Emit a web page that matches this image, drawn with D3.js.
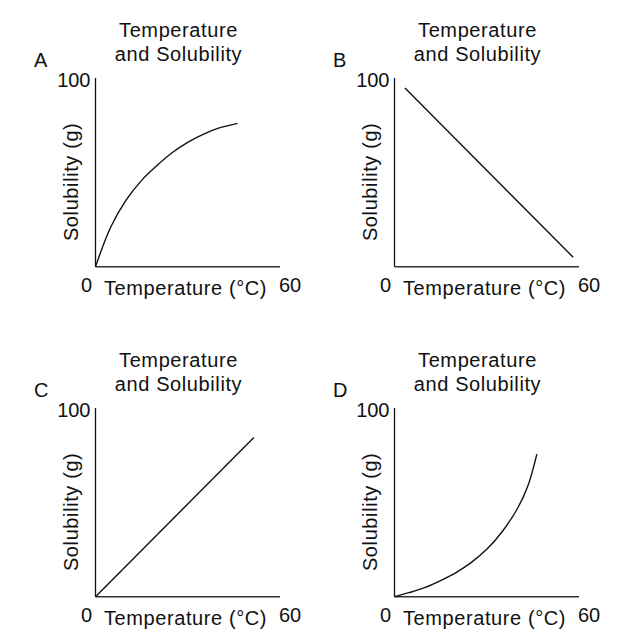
<!DOCTYPE html>
<html>
<head>
<meta charset="utf-8">
<script src="https://cdn.jsdelivr.net/npm/d3@7"></script>
<style>
  body { margin: 0; background: #fff; }
  svg text { font-family: "Liberation Sans", Arial, sans-serif; fill: #111; }
</style>
</head>
<body>
<div id="chart"></div>
<script>
// values (temperature in °C, solubility in g)
const panelLetters = ["A", "B", "C", "D"];
const titleLines = ["Temperature", "and Solubility"];
const xTicks = [0, 60];
const yTicks = [100];

const tempA = [0, 5, 10, 15, 20, 25, 30, 35, 40, 46.2];
const solA  = [0, 21.5, 36, 46.5, 54.5, 61.5, 67, 71.3, 74.6, 77.2];

const tempB = [3.4, 58.1];
const solB  = [96.2, 5.1];

const tempC = [0, 51.5];
const solC  = [0, 85.7];

const tempD = [0, 5, 10, 15, 20, 25, 30, 35, 40, 43.3, 46.3];
const solD  = [0, 2.3, 5, 8.7, 13, 18.5, 25.5, 35, 47.5, 59.3, 76.8];

const series = [[tempA, solA], [tempB, solB], [tempC, solC], [tempD, solD]];

const W = 622, H = 636;
// top-left position of each small chart
const offsets = [[0, 0], [299, 0], [0, 330], [299, 330]];

const svg = d3.select("#chart").append("svg")
    .attr("width", W)
    .attr("height", H);

// plot area inside one panel
const plot = { left: 95.5, right: 280, top: 81, bottom: 266.7 };

const x = d3.scaleLinear().domain([0, 60]).range([plot.left, plot.right]);
const y = d3.scaleLinear().domain([0, 100]).range([plot.bottom, plot.top]);

const line = d3.line()
    .x(d => x(d[0]))
    .y(d => y(d[1]))
    .curve(d3.curveCatmullRom.alpha(0.5));

series.forEach((s, i) => {
    const g = svg.append("g")
        .attr("transform", `translate(${offsets[i][0]}, ${offsets[i][1]})`);

    // panel letter
    g.append("text")
        .attr("x", 34)
        .attr("y", 66.5)
        .style("font-size", "20px")
        .text(panelLetters[i]);

    // two line title
    g.append("text")
        .attr("x", plot.left + 83)
        .attr("y", 37)
        .attr("text-anchor", "middle")
        .style("font-size", "20px")
        .style("letter-spacing", "0.6px")
        .selectAll("tspan")
        .data(titleLines)
        .join("tspan")
        .attr("x", plot.left + 83)
        .attr("dy", (d, j) => j === 0 ? 0 : 24)
        .text(d => d);

    // axes, drawn as bare lines (y axis runs a little past 100)
    g.append("line")
        .attr("x1", x(0)).attr("x2", x(0))
        .attr("y1", y(0)).attr("y2", y(100) - 3)
        .attr("stroke", "#111")
        .attr("stroke-width", 1.3);

    g.append("line")
        .attr("x1", x(0)).attr("x2", x(60))
        .attr("y1", y(0)).attr("y2", y(0))
        .attr("stroke", "#333")
        .attr("stroke-width", 1.6);

    // tick labels
    g.selectAll(".xtick")
        .data(xTicks)
        .join("text")
        .attr("class", "xtick")
        .attr("x", d => d === 0 ? x(d) - 3.5 : x(d) - 1)
        .attr("y", y(0) + 25)
        .attr("text-anchor", d => d === 0 ? "end" : "start")
        .style("font-size", "20px")
        .text(d => d);

    g.selectAll(".ytick")
        .data(yTicks)
        .join("text")
        .attr("class", "ytick")
        .attr("x", x(0) - 5)
        .attr("y", d => y(d) + 6)
        .attr("text-anchor", "end")
        .style("font-size", "20px")
        .text(d => d);

    // axis titles
    g.append("text")
        .attr("x", plot.left + 90)
        .attr("y", y(0) + 28)
        .attr("text-anchor", "middle")
        .style("font-size", "20px")
        .style("letter-spacing", "0.6px")
        .text("Temperature (°C)");

    g.append("text")
        .attr("transform", `translate(78, ${(plot.top + plot.bottom) / 2 + 8}) rotate(-90)`)
        .attr("text-anchor", "middle")
        .style("font-size", "20px")
        .style("letter-spacing", "0.6px")
        .text("Solubility (g)");

    // the curve
    const pts = s[0].map((t, k) => [t, s[1][k]]);
    g.append("path")
        .datum(pts)
        .attr("fill", "none")
        .attr("stroke", "#111")
        .attr("stroke-width", 1.4)
        .attr("d", line);
});
</script>
</body>
</html>
